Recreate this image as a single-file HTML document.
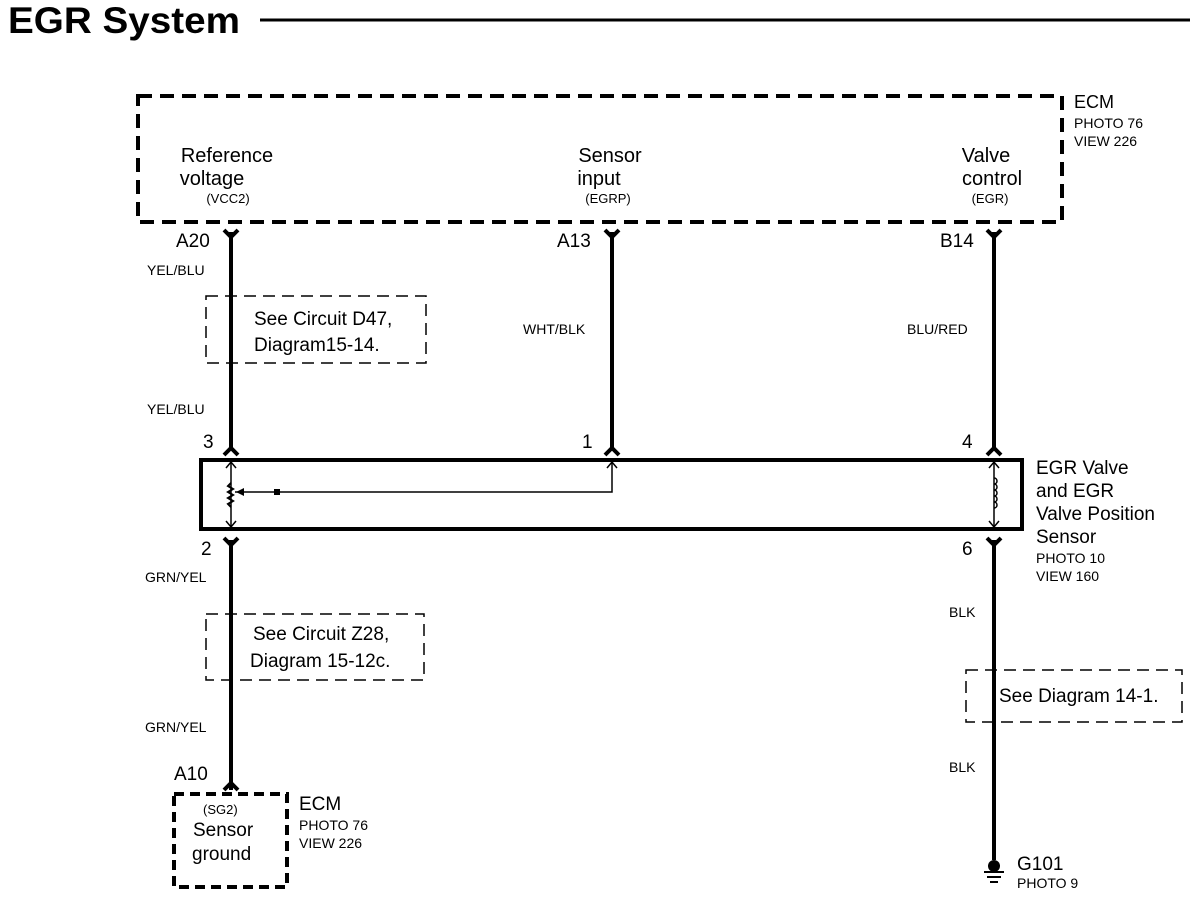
<!DOCTYPE html>
<html><head><style>body{margin:0;background:#fff}svg{display:block}text{font-family:"Liberation Sans",sans-serif;fill:#000}</style></head><body>
<svg width="1200" height="902" viewBox="0 0 1200 902" xmlns="http://www.w3.org/2000/svg">
<text x="8" y="33" font-size="37" font-weight="bold" textLength="232" lengthAdjust="spacingAndGlyphs">EGR System</text>
<line x1="260" y1="20" x2="1190" y2="20" stroke="#000" stroke-width="3"/>
<rect x="138" y="96" width="924" height="126" fill="none" stroke="#000" stroke-width="4" stroke-dasharray="14,8"/>
<text x="1074" y="108" font-size="18">ECM</text>
<text x="1074" y="128" font-size="14">PHOTO 76</text>
<text x="1074" y="146" font-size="14">VIEW 226</text>
<g font-size="20" text-anchor="middle">
<text x="227" y="162">Reference</text><text x="212" y="185">voltage</text>
<text x="610" y="162">Sensor</text><text x="599" y="185">input</text>
<text x="986" y="162">Valve</text><text x="992" y="185">control</text>
</g>
<g font-size="13" text-anchor="middle">
<text x="228" y="203">(VCC2)</text><text x="608" y="203">(EGRP)</text><text x="990" y="203">(EGR)</text>
</g>
<g stroke="#000" stroke-width="4" fill="none">
<line x1="231" y1="232" x2="231" y2="450"/>
<line x1="612" y1="232" x2="612" y2="450"/>
<line x1="994" y1="232" x2="994" y2="450"/>
<line x1="231" y1="540" x2="231" y2="790"/>
<line x1="994" y1="540" x2="994" y2="860"/>
<path d="M224 230 L231 237 L238 230"/><path d="M605 230 L612 237 L619 230"/><path d="M987 230 L994 237 L1001 230"/>
<path d="M224 455 L231 448 L238 455"/><path d="M605 455 L612 448 L619 455"/><path d="M987 455 L994 448 L1001 455"/>
<path d="M224 538 L231 545 L238 538"/><path d="M987 538 L994 545 L1001 538"/>
<path d="M224 790 L231 783 L238 790"/>
<rect x="201" y="460" width="821" height="69"/>
<rect x="174" y="794" width="113" height="93" stroke-dasharray="10,6"/>
</g>
<g stroke="#000" stroke-width="1.5" fill="none">
<line x1="231" y1="462" x2="231" y2="527"/>
<path d="M226 468 L231 462 L236 468 M226 521 L231 527 L236 521"/>
<path d="M231 483 l-3 3 l5 3 l-5 3 l5 3 l-5 3 l5 3 l-5 3 l3 3" stroke-width="2"/>
<polyline points="235,492 612,492 612,462"/>
<path d="M607 468 L612 462 L617 468"/>
<line x1="994" y1="462" x2="994" y2="527"/>
<path d="M989 468 L994 462 L999 468 M989 521 L994 527 L999 521"/>
<path d="M994 478 c4 0 4 6 0 6 c4 0 4 6 0 6 c4 0 4 6 0 6 c4 0 4 6 0 6 c4 0 4 6 0 6" />
<rect x="206" y="296" width="220" height="67" stroke-dasharray="12,7"/>
<rect x="206" y="614" width="218" height="66" stroke-dasharray="12,7"/>
<rect x="966" y="670" width="216" height="52" stroke-dasharray="12,7"/>
</g>
<path d="M236 492 l8 -4 v8 z" fill="#000"/>
<rect x="274" y="489" width="6" height="6" fill="#000"/>
<line x1="231" y1="296" x2="231" y2="363" stroke="#000" stroke-width="4"/>
<line x1="231" y1="614" x2="231" y2="680" stroke="#000" stroke-width="4"/>
<line x1="994" y1="670" x2="994" y2="722" stroke="#000" stroke-width="4"/>
<g font-size="19">
<text x="176" y="247">A20</text><text x="557" y="247">A13</text><text x="940" y="247">B14</text>
<text x="203" y="448">3</text><text x="582" y="448">1</text><text x="962" y="448">4</text>
<text x="201" y="555">2</text><text x="962" y="555">6</text>
<text x="174" y="780">A10</text>
<text x="254" y="325">See Circuit D47,</text><text x="254" y="351">Diagram15-14.</text>
<text x="253" y="640">See Circuit Z28,</text><text x="250" y="667">Diagram 15-12c.</text>
<text x="999" y="702">See Diagram 14-1.</text>
<text x="1036" y="474">EGR Valve</text><text x="1036" y="497">and EGR</text>
<text x="1036" y="520">Valve Position</text><text x="1036" y="543">Sensor</text>
<text x="299" y="810">ECM</text>
<text x="193" y="836">Sensor</text><text x="192" y="860">ground</text>
<text x="1017" y="870">G101</text>
</g>
<g font-size="14">
<text x="147" y="275">YEL/BLU</text><text x="147" y="414">YEL/BLU</text>
<text x="523" y="334">WHT/BLK</text><text x="907" y="334">BLU/RED</text>
<text x="145" y="582">GRN/YEL</text><text x="145" y="732">GRN/YEL</text>
<text x="949" y="617">BLK</text><text x="949" y="772">BLK</text>
<text x="1036" y="563">PHOTO 10</text><text x="1036" y="581">VIEW 160</text>
<text x="299" y="830">PHOTO 76</text><text x="299" y="848">VIEW 226</text>
<text x="1017" y="888">PHOTO 9</text>
<text x="203" y="814" font-size="13">(SG2)</text>
</g>
<circle cx="994" cy="866" r="6" fill="#000"/>
<g stroke="#000" stroke-width="2"><line x1="984" y1="872" x2="1004" y2="872"/><line x1="987" y1="877" x2="1001" y2="877"/><line x1="990" y1="882" x2="998" y2="882"/></g>
</svg>
</body></html>
